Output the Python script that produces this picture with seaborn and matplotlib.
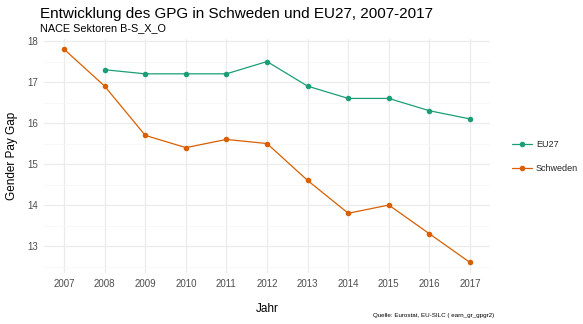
import matplotlib
matplotlib.use("Agg")
import matplotlib.pyplot as plt
from matplotlib.lines import Line2D
import seaborn as sns
import pandas as pd

years_eu = [2008, 2009, 2010, 2011, 2012, 2013, 2014, 2015, 2016, 2017]
gpg_eu = [17.3, 17.2, 17.2, 17.2, 17.5, 16.9, 16.6, 16.6, 16.3, 16.1]
years_se = [2007, 2008, 2009, 2010, 2011, 2012, 2013, 2014, 2015, 2016, 2017]
gpg_se = [17.8, 16.9, 15.7, 15.4, 15.6, 15.5, 14.6, 13.8, 14.0, 13.3, 12.6]
regions = ["EU27", "Schweden"]
colors = {"EU27": "#1B9E77", "Schweden": "#D95F02"}

df = pd.concat([
    pd.DataFrame({"Jahr": years_eu, "GPG": gpg_eu, "Region": "EU27"}),
    pd.DataFrame({"Jahr": years_se, "GPG": gpg_se, "Region": "Schweden"}),
])

sns.set_theme(style="white")
plt.rcParams["font.family"] = ["Liberation Sans", "DejaVu Sans"]

fig = plt.figure(figsize=(5.83, 3.24), dpi=100)
ax = fig.add_axes([0.075, 0.157, 0.766, 0.724])

sns.lineplot(data=df, x="Jahr", y="GPG", hue="Region", hue_order=regions,
             palette=colors, marker="o", markersize=4, markeredgewidth=0,
             linewidth=0.9, ax=ax, legend=False, zorder=3)

ax.set_xlim(2006.5, 2017.5)
ax.set_ylim(12.34, 18.06)
ax.set_xticks(years_se)
ax.set_yticks([13, 14, 15, 16, 17, 18])
ax.set_yticks([12.5, 13.5, 14.5, 15.5, 16.5, 17.5], minor=True)
ax.grid(True, which="major", color="#EBEBEB", linewidth=0.9)
ax.grid(True, which="minor", axis="y", color="#F5F5F5", linewidth=0.5)
ax.set_axisbelow(True)
for s in ax.spines.values():
    s.set_visible(False)
ax.tick_params(axis="both", which="both", length=0, labelsize=7, colors="#4D4D4D", pad=4)
ax.set_xlabel("Jahr", fontsize=8.5, color="black", labelpad=10)
ax.set_ylabel("Gender Pay Gap", fontsize=8.5, color="black", labelpad=7)

fig.text(0.069, 0.945, "Entwicklung des GPG in Schweden und EU27, 2007-2017",
         fontsize=11, color="black", ha="left", va="baseline")
fig.text(0.069, 0.904, "NACE Sektoren B-S_X_O", fontsize=7.8, color="black",
         ha="left", va="baseline")
fig.text(0.848, 0.022, "Quelle: Eurostat, EU-SILC ( earn_gr_gpgr2)", fontsize=4.5,
         color="black", ha="right", va="baseline")

handles = [Line2D([], [], color=colors[r], marker="o", markersize=4,
                  markeredgewidth=0, linewidth=0.9) for r in regions]
fig.legend(handles, regions, loc="upper left", bbox_to_anchor=(0.865, 0.594),
           frameon=False, fontsize=6.5, handlelength=2.2, handletextpad=0.4,
           labelspacing=1.75)

fig.savefig("out.png", dpi=100)
